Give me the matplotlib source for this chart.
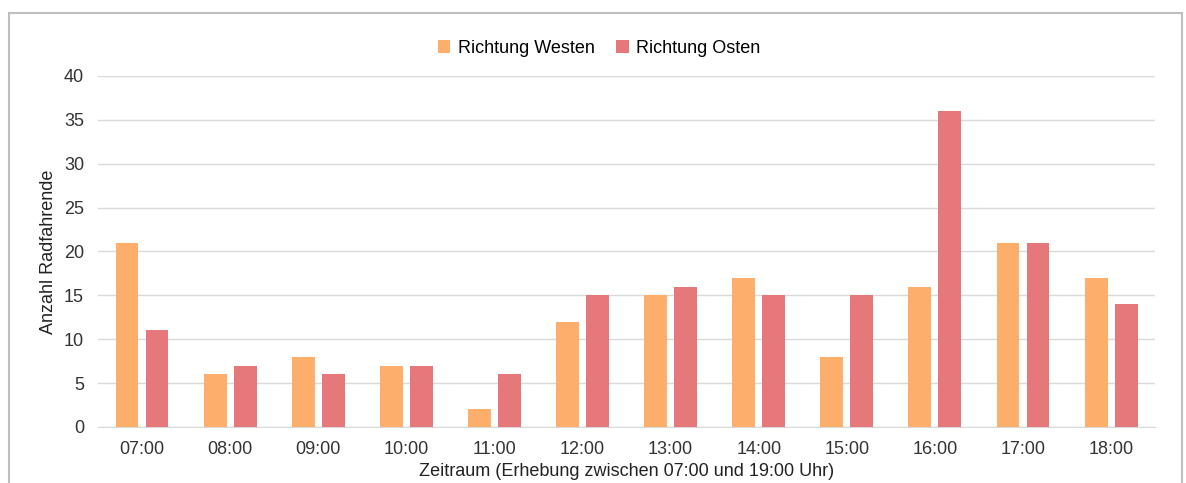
import matplotlib.pyplot as plt
from matplotlib.patches import Rectangle
import numpy as np

plt.rcParams['font.family'] = ['Liberation Sans', 'DejaVu Sans']

zeiten = ["07:00", "08:00", "09:00", "10:00", "11:00", "12:00",
          "13:00", "14:00", "15:00", "16:00", "17:00", "18:00"]
westen = [21, 6, 8, 7, 2, 12, 15, 17, 8, 16, 21, 17]
osten = [11, 7, 6, 7, 6, 15, 16, 15, 15, 36, 21, 14]

fig = plt.figure(figsize=(11.86, 4.83), dpi=100)
ax = fig.add_axes([0.0826, 0.116, 0.8914, 0.7267])

# outer frame (cut off at the bottom like in the original)
fig.patches.append(Rectangle((9 / 1186, -0.05), 1173 / 1186, 1.05 - 13 / 483,
                             transform=fig.transFigure, fill=False,
                             edgecolor='#BFBFBF', linewidth=1.5))

x = np.arange(len(zeiten))
w = 0.26
ax.bar(x - 0.04 - w / 2, westen, w, color='#FDAE6B', label='Richtung Westen', zorder=3)
ax.bar(x + 0.04 + w / 2, osten, w, color='#E6787B', label='Richtung Osten', zorder=3)

ax.set_xlim(-0.5, len(zeiten) - 0.5)
ax.set_ylim(0, 40)
ax.set_yticks(range(0, 41, 5))
ax.set_xticks(x)
ax.set_xticklabels(zeiten)
ax.grid(axis='y', color='#D9D9D9', linewidth=1, zorder=0)
for s in ['top', 'right', 'left']:
    ax.spines[s].set_visible(False)
ax.spines['bottom'].set_color('#D9D9D9')
ax.tick_params(length=0, labelsize=13, colors='#333333', pad=10)

ax.set_ylabel('Anzahl Radfahrende', fontsize=13, color='#222222', labelpad=5)
ax.set_xlabel('Zeitraum (Erhebung zwischen 07:00 und 19:00 Uhr)', fontsize=13,
              color='#222222', labelpad=4)

fig.legend(loc='center', bbox_to_anchor=(0.505, 0.9), ncol=2, frameon=False,
           fontsize=13, handlelength=0.7, handleheight=0.7, columnspacing=1.2,
           handletextpad=0.4)

fig.savefig('out.png', dpi=100)
